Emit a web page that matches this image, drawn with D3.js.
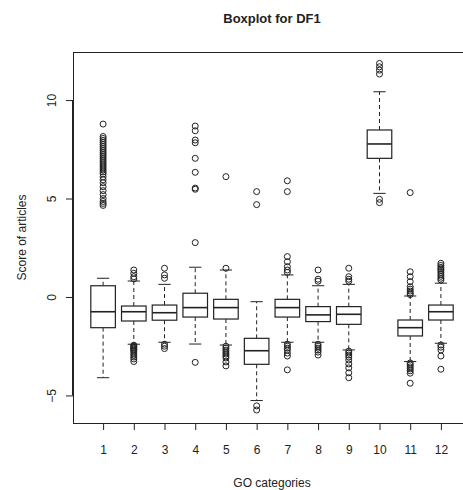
<!DOCTYPE html>
<html>
<head>
<meta charset="utf-8">
<script src="https://d3js.org/d3.v7.min.js"></script>
<style>
  html, body { margin: 0; padding: 0; background: #fff; }
  svg { display: block; }
  text { font-family: "Liberation Sans", Arial, sans-serif; fill: #222; }
</style>
</head>
<body>
<svg id="chart" width="463" height="490"></svg>
<script>
const categories = ["1","2","3","4","5","6","7","8","9","10","11","12"];
const whiskerLow  = [-4.10, -2.40, -2.30, -2.39, -2.44, -5.26, -2.30, -2.30, -2.69, 5.26, -3.28, -2.35];
const lowerHinge  = [-1.56, -1.22, -1.18, -1.02, -1.12, -3.42, -1.02, -1.25, -1.39, 7.04, -1.98, -1.17];
const medians     = [-0.75, -0.75, -0.80, -0.54, -0.54, -2.73, -0.54, -0.91, -0.88, 7.77, -1.56, -0.75];
const upperHinge  = [ 0.57, -0.46, -0.41,  0.19, -0.12, -2.10, -0.12, -0.49, -0.49, 8.48, -1.17, -0.41];
const whiskerHigh = [ 0.95,  0.81,  0.64,  1.51,  1.37, -0.24,  1.12,  0.57,  0.64, 10.42, 0.05,  0.70];
const outliers = [
  [8.78, 8.15, 8.05, 7.95, 7.85, 7.75, 7.65, 7.55, 7.45, 7.35, 7.25, 7.15, 7.05, 6.95, 6.85, 6.75, 6.65, 6.55, 6.45, 6.35, 6.25, 6.1, 5.95, 5.8, 5.6, 5.4, 5.2, 5.0, 4.85, 4.75, 4.65],
  [1.37, 1.2, 1.03, 0.92, -2.45, -2.5, -2.55, -2.6, -2.65, -2.7, -2.75, -2.85, -2.95, -3.05, -3.15, -3.28],
  [1.46, 1.12, 0.95, -2.4, -2.5, -2.62],
  [8.68, 8.44, 7.97, 7.83, 7.04, 6.33, 5.53, 5.47, 2.76, -3.32],
  [6.11, 1.46, -2.5, -2.6, -2.7, -2.8, -2.9, -3.0, -3.1, -3.3, -3.5],
  [5.35, 4.69, -5.53, -5.74],
  [5.9, 5.35, 2.05, 1.79, 1.54, 1.37, 1.25, -2.4, -2.5, -2.6, -2.7, -2.85, -3.0, -3.7],
  [1.37, 0.9, 0.8, -2.4, -2.5, -2.6, -2.7, -2.8, -2.95],
  [1.46, 1.03, 0.9, 0.8, -2.75, -2.85, -2.95, -3.05, -3.2, -3.4, -3.6, -3.85, -4.1],
  [11.86, 11.69, 11.52, 11.32, 4.96, 4.79],
  [5.3, 1.28, 1.03, 0.78, 0.52, 0.4, 0.3, 0.2, 0.12, -3.35, -3.45, -3.55, -3.65, -3.75, -3.87, -4.38],
  [1.71, 1.6, 1.5, 1.42, 1.35, 1.25, 1.15, 1.05, 0.95, 0.86, -2.44, -2.55, -2.69, -3.0, -3.67]
];
const yTicks = [-5, 0, 5, 10];
const title = "Boxplot for DF1";
const xLabel = "GO categories";
const yLabel = "Score of articles";

(function () {
const svg = d3.select("#chart");
const mL = 73, mR = 471, mT = 52, mB = 423;
const ink = "#222";

const x = d3.scaleLinear().domain([0.02, 12.98]).range([mL, mR]);
const y = d3.scaleLinear().domain([-6.4, 12.44]).range([mB, mT]);
const step = x(2) - x(1);
const boxW = step * 0.8;
const capW = boxW * 0.5;

const data = categories.map((c, i) => ({
  c, i: i + 1,
  lo: whiskerLow[i], q1: lowerHinge[i], med: medians[i], q3: upperHinge[i], hi: whiskerHigh[i],
  out: outliers[i]
}));

// Axes
const xAxis = d3.axisBottom(x).tickValues(d3.range(1, 13)).tickFormat(d => categories[d - 1]).tickSize(7).tickPadding(15);
const gx = svg.append("g").attr("transform", `translate(0,${mB})`).call(xAxis);
gx.select(".domain").attr("d", `M${x(1)},0.5H${x(12)}`).attr("stroke", ink);
gx.selectAll(".tick line").attr("stroke", ink);
gx.selectAll(".tick text").attr("font-size", 12).attr("fill", ink).style("font-family", "Liberation Sans, Arial, sans-serif");

const yAxis = d3.axisLeft(y).tickValues(yTicks).tickSize(7).tickPadding(0);
const gy = svg.append("g").attr("transform", `translate(${mL},0)`).call(yAxis);
gy.select(".domain").attr("d", `M-0.5,${y(-5)}V${y(10)}`).attr("stroke", ink);
gy.selectAll(".tick line").attr("stroke", ink);
gy.selectAll(".tick text")
  .attr("font-size", 12).attr("fill", ink)
  .style("font-family", "Liberation Sans, Arial, sans-serif")
  .attr("text-anchor", "middle")
  .attr("x", 0).attr("y", 0).attr("dy", 0)
  .attr("transform", "translate(-17,0) rotate(-90)");

// Frame
svg.append("rect")
  .attr("x", mL + 0.5).attr("y", mT + 0.5)
  .attr("width", mR - mL).attr("height", mB - mT)
  .attr("fill", "none").attr("stroke", ink).attr("stroke-width", 1);

// Boxes
const g = svg.append("g");
const b = g.selectAll("g.box").data(data).join("g").attr("class", "box");

b.append("line")
  .attr("x1", d => x(d.i)).attr("x2", d => x(d.i))
  .attr("y1", d => y(d.q3)).attr("y2", d => y(d.hi))
  .attr("stroke", ink).attr("stroke-dasharray", "4,3");
b.append("line")
  .attr("x1", d => x(d.i)).attr("x2", d => x(d.i))
  .attr("y1", d => y(d.q1)).attr("y2", d => y(d.lo))
  .attr("stroke", ink).attr("stroke-dasharray", "4,3");
b.append("line")
  .attr("x1", d => x(d.i) - capW / 2).attr("x2", d => x(d.i) + capW / 2)
  .attr("y1", d => y(d.hi)).attr("y2", d => y(d.hi)).attr("stroke", ink);
b.append("line")
  .attr("x1", d => x(d.i) - capW / 2).attr("x2", d => x(d.i) + capW / 2)
  .attr("y1", d => y(d.lo)).attr("y2", d => y(d.lo)).attr("stroke", ink);
b.append("rect")
  .attr("x", d => x(d.i) - boxW / 2).attr("y", d => y(d.q3))
  .attr("width", boxW).attr("height", d => y(d.q1) - y(d.q3))
  .attr("fill", "#fff").attr("stroke", ink).attr("stroke-width", 1.2);
b.append("line")
  .attr("x1", d => x(d.i) - boxW / 2).attr("x2", d => x(d.i) + boxW / 2)
  .attr("y1", d => y(d.med)).attr("y2", d => y(d.med))
  .attr("stroke", ink).attr("stroke-width", 1.6);

b.selectAll("circle").data(d => d.out.map(v => ({ i: d.i, v }))).join("circle")
  .attr("cx", p => x(p.i)).attr("cy", p => y(p.v)).attr("r", 3)
  .attr("fill", "none").attr("stroke", ink).attr("stroke-width", 1);

// Labels
svg.append("text").attr("x", (mL + mR) / 2).attr("y", 23)
  .attr("text-anchor", "middle").attr("font-size", 13).attr("font-weight", "bold").text(title);
svg.append("text").attr("x", (mL + mR) / 2).attr("y", 487)
  .attr("text-anchor", "middle").attr("font-size", 12).text(xLabel);
svg.append("text").attr("transform", `translate(26,${(mT + mB) / 2}) rotate(-90)`)
  .attr("text-anchor", "middle").attr("font-size", 12).text(yLabel);
})();
</script>
</body>
</html>
